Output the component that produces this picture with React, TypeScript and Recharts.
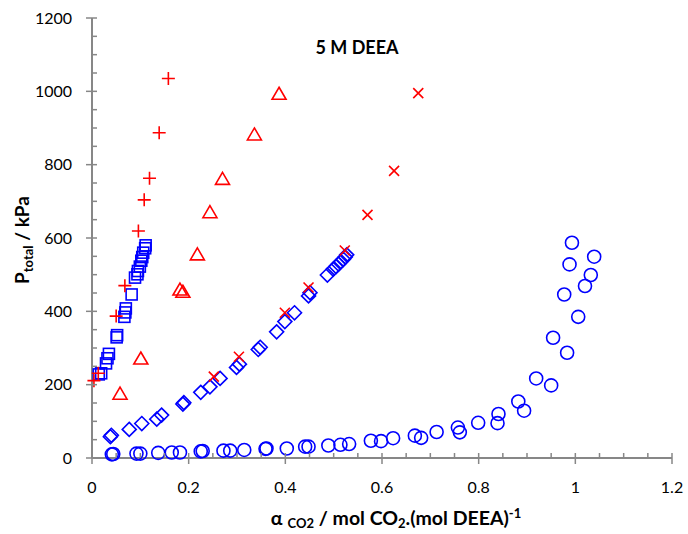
import { ScatterChart, Scatter, XAxis, YAxis, Label } from 'recharts'

// alpha (mol CO2 / mol DEEA), P total (kPa)
const circles: [number, number][] = [
  [0.041, 10], [0.044, 11], [0.092, 12], [0.1, 12], [0.137, 14], [0.165, 15], [0.182, 15],
  [0.225, 18], [0.229, 19], [0.272, 20], [0.286, 20], [0.315, 22], [0.359, 25], [0.361, 26],
  [0.403, 26], [0.441, 31], [0.448, 31], [0.489, 34], [0.514, 36], [0.532, 38], [0.577, 47],
  [0.598, 46], [0.623, 54], [0.668, 61], [0.681, 55], [0.713, 71], [0.757, 83], [0.761, 70],
  [0.799, 96], [0.841, 120], [0.839, 95], [0.882, 154], [0.894, 129], [0.919, 217], [0.95, 198],
  [0.954, 328], [0.983, 287], [1.006, 385], [0.977, 446], [1.02, 469], [1.032, 499],
  [0.988, 528], [1.039, 549], [0.993, 587],
]

const squares: [number, number][] = [
  [0.014, 228], [0.019, 231], [0.029, 258], [0.032, 272], [0.035, 284], [0.051, 329],
  [0.052, 335], [0.067, 385], [0.069, 397], [0.07, 408], [0.082, 446], [0.089, 492],
  [0.094, 501], [0.095, 510], [0.099, 522], [0.102, 538], [0.104, 548], [0.106, 560],
  [0.11, 572], [0.111, 580],
]

const diamonds: [number, number][] = [
  [0.038, 58], [0.04, 62], [0.077, 78], [0.103, 94], [0.134, 106], [0.144, 117], [0.188, 147],
  [0.19, 151], [0.225, 179], [0.244, 194], [0.265, 217], [0.299, 247], [0.305, 256],
  [0.344, 296], [0.348, 302], [0.382, 344], [0.399, 372], [0.419, 396], [0.448, 442],
  [0.451, 451], [0.487, 499], [0.499, 515], [0.505, 522], [0.51, 529], [0.515, 536],
  [0.52, 542], [0.524, 548], [0.527, 554],
]

const pluses: [number, number][] = [
  [0.004, 211], [0.013, 231], [0.05, 387], [0.068, 470], [0.096, 619], [0.108, 704],
  [0.119, 763], [0.139, 887], [0.158, 1035],
]

const triangles: [number, number][] = [
  [0.058, 174], [0.101, 270], [0.182, 458], [0.188, 452], [0.218, 554], [0.244, 669],
  [0.27, 760], [0.336, 881], [0.387, 992],
]

const crosses: [number, number][] = [
  [0.252, 222], [0.304, 276], [0.399, 396], [0.448, 465], [0.523, 566], [0.57, 663],
  [0.625, 783], [0.675, 995],
]

const xMajor = [0, 0.2, 0.4, 0.6, 0.8, 1, 1.2]
const yMajor = [0, 200, 400, 600, 800, 1000, 1200]

const BLUE = '#0000FF'
const RED = '#FF0000'
const AXIS = '#878787'
const FONT = 'Lato, "Open Sans", sans-serif'

const toPts = (a: [number, number][]) => a.map(([x, y]) => ({ x, y }))

// major ticks plus minor ones (4 parts per major step)
function withMinor(major: number[]) {
  const out: number[] = []
  for (let i = 0; i < major.length - 1; i++) {
    const step = (major[i + 1] - major[i]) / 4
    for (let k = 0; k < 4; k++) out.push(+(major[i] + k * step).toFixed(4))
  }
  out.push(major[major.length - 1])
  return out
}
const isMajor = (v: number, major: number[]) => major.some((m) => Math.abs(m - v) < 1e-6)

const XTick = (p: any) => {
  const v = p.payload.value
  const major = isMajor(v, xMajor)
  return (
    <g>
      <line x1={p.x} x2={p.x} y1={p.y - 5} y2={major ? p.y + 6 : p.y} stroke={AXIS} strokeWidth={1.5} />
      {major && (
        <text x={p.x} y={p.y + 29} dy="0.35em" textAnchor="middle" fontSize={16} fill="#000" fontFamily={FONT}>
          {v}
        </text>
      )}
    </g>
  )
}

const YTick = (p: any) => {
  const v = p.payload.value
  const major = isMajor(v, yMajor)
  return (
    <g>
      <line x1={major ? p.x - 6 : p.x} x2={p.x + 5} y1={p.y} y2={p.y} stroke={AXIS} strokeWidth={1.5} />
      {major && (
        <text x={p.x - 20} y={p.y} dy="0.35em" textAnchor="end" fontSize={16} fill="#000" fontFamily={FONT}>
          {v}
        </text>
      )}
    </g>
  )
}

const XTitle = () => (
  <g fontFamily={FONT} fontWeight="bold" fill="#000">
    <text x={396} y={525} textAnchor="middle" fontSize={19.5}>
      α<tspan dx={5} dy={3} fontSize={13}>CO2</tspan>
      <tspan dy={-3}> / mol CO</tspan>
      <tspan dy={3} fontSize={13}>2</tspan>
      <tspan dy={-3}>.(mol DEEA)</tspan>
      <tspan dy={-7} fontSize={13}>-1</tspan>
    </text>
    <text x={357} y={54} textAnchor="middle" fontSize={18}>5 M DEEA</text>
  </g>
)

const YTitle = () => (
  <text x={0} y={0} transform="translate(29 240) rotate(-90)" textAnchor="middle" fontFamily={FONT}
    fontWeight="bold" fontSize={19} fill="#000">
    P<tspan dy={4} fontSize={13}>total</tspan>
    <tspan dy={-4}> / kPa</tspan>
  </text>
)

const CircleMark = (p: any) => <circle cx={p.cx} cy={p.cy} r={6.5} fill="none" stroke={BLUE} strokeWidth={1.6} />
const SquareMark = (p: any) => (
  <rect x={p.cx - 5.5} y={p.cy - 5.5} width={11} height={11} fill="none" stroke={BLUE} strokeWidth={1.6} />
)
const DiamondMark = (p: any) => (
  <path d={`M${p.cx} ${p.cy - 7}L${p.cx + 7} ${p.cy}L${p.cx} ${p.cy + 7}L${p.cx - 7} ${p.cy}Z`}
    fill="none" stroke={BLUE} strokeWidth={1.6} />
)
const TriMark = (p: any) => (
  <path d={`M${p.cx} ${p.cy - 7}L${p.cx + 7} ${p.cy + 5}L${p.cx - 7} ${p.cy + 5}Z`}
    fill="none" stroke={RED} strokeWidth={1.6} />
)
const PlusMark = (p: any) => (
  <path d={`M${p.cx - 6.5} ${p.cy}H${p.cx + 6.5}M${p.cx} ${p.cy - 6.5}V${p.cy + 6.5}`} stroke={RED} strokeWidth={1.6} />
)
const CrossMark = (p: any) => (
  <path d={`M${p.cx - 5} ${p.cy - 5}L${p.cx + 5} ${p.cy + 5}M${p.cx + 5} ${p.cy - 5}L${p.cx - 5} ${p.cy + 5}`}
    stroke={RED} strokeWidth={1.6} />
)

export default function App() {
  return (
    <div style={{ position: 'absolute', left: 0, top: 0, background: '#fff' }}>
      <ScatterChart width={688} height={534} margin={{ top: 18, right: 16, bottom: 46, left: 0 }}>
        <XAxis type="number" dataKey="x" domain={[0, 1.2]} ticks={withMinor(xMajor)} interval={0}
          tickSize={0} tickMargin={0} tickLine={false} tick={XTick} height={30}
          axisLine={{ stroke: AXIS, strokeWidth: 2 }}>
          <Label content={XTitle} />
        </XAxis>
        <YAxis type="number" dataKey="y" domain={[0, 1200]} ticks={withMinor(yMajor)} interval={0}
          tickSize={0} tickMargin={0} tickLine={false} tick={YTick} width={92}
          axisLine={{ stroke: AXIS, strokeWidth: 2 }}>
          <Label content={YTitle} />
        </YAxis>
        <Scatter data={toPts(circles)} shape={CircleMark} isAnimationActive={false} />
        <Scatter data={toPts(squares)} shape={SquareMark} isAnimationActive={false} />
        <Scatter data={toPts(diamonds)} shape={DiamondMark} isAnimationActive={false} />
        <Scatter data={toPts(triangles)} shape={TriMark} isAnimationActive={false} />
        <Scatter data={toPts(pluses)} shape={PlusMark} isAnimationActive={false} />
        <Scatter data={toPts(crosses)} shape={CrossMark} isAnimationActive={false} />
      </ScatterChart>
    </div>
  )
}
